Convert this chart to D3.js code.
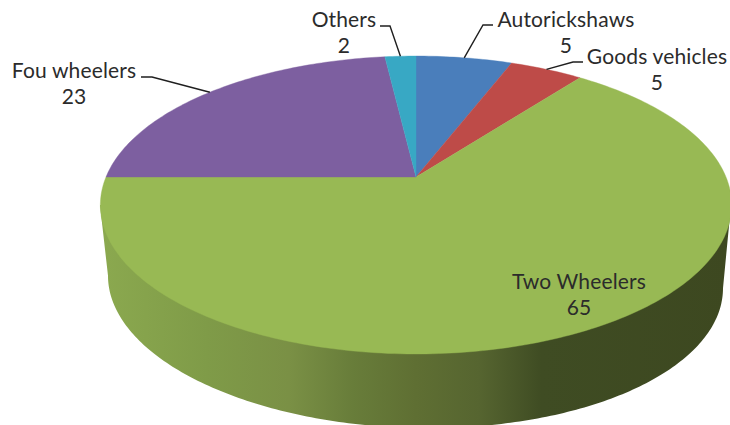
<!DOCTYPE html>
<html>
<head>
<meta charset="utf-8">
<script src="https://d3js.org/d3.v7.min.js"></script>
<style>
  html, body { margin: 0; padding: 0; background: #fff; }
  svg { display: block; }
  text { font-family: Lato, "Open Sans", sans-serif; font-size: 21px; letter-spacing: 0.15px; fill: #2b2b2b; }
</style>
</head>
<body>
<div id="chart"></div>
<script>
const CATEGORIES = ["Autorickshaws", "Goods vehicles", "Two Wheelers", "Fou wheelers", "Others"];
const SLICE_SHARES = [5.9, 4.5, 64.6, 23.1, 1.9];
const LABEL_VALUES = [5, 5, 65, 23, 2];
const COLORS = ["#4a7ebb", "#be4b48", "#98b954", "#7d5fa0", "#38a8c4"];

const FRAME_WIDTH = 730;
const FRAME_HEIGHT = 425;

// perspective of the pie top: pie centre sits above the middle of the ellipse
const CENTER = {x: 416, y: 177};
const TILT = -0.188;
const RADIUS_X = 310;
const RADIUS_Y = 143.7;

// bottom rim of the wall
const RIM = {x: 415.5, y: 282, rx: 307.5, ry: 146, shear: 0.02};

const svg = d3.select("#chart").append("svg")
    .attr("width", FRAME_WIDTH)
    .attr("height", FRAME_HEIGHT);

// map an angle (0 = 12 o'clock, clockwise) to the tilted disc
function project(angle, r = 1) {
    const u = r * Math.sin(angle);
    const v = -r * Math.cos(angle);
    const w = 1 + TILT * v;
    return [CENTER.x + RADIUS_X * u / w, CENTER.y + RADIUS_Y * v / w];
}

function rimPoint(t) {
    const x = RIM.x + RIM.rx * Math.cos(t);
    const y = RIM.y + RIM.ry * Math.sin(t) + RIM.shear * (x - RIM.x);
    return [x, y];
}

const line = d3.line();
const pie = d3.pie().sort(null).value(d => d.share);
const slices = pie(CATEGORIES.map((name, i) => ({
    name: name, share: SLICE_SHARES[i], label: LABEL_VALUES[i], color: COLORS[i]
})));

// wall gradient, runs left to right along the front
const grad = svg.append("defs").append("linearGradient")
    .attr("id", "wall")
    .attr("gradientUnits", "userSpaceOnUse")
    .attr("x1", 100).attr("x2", 731).attr("y1", 0).attr("y2", 0);
[[0, "#8ba94f"], [0.17, "#7f9b48"], [0.3, "#7a9045"], [0.4, "#687d3a"],
 [0.5, "#5f6f33"], [0.6, "#566530"], [0.7, "#3f4c23"], [1, "#3d4820"]].forEach(s => {
    grad.append("stop").attr("offset", s[0]).attr("stop-color", s[1]);
});

// the wall: outer silhouette from the left tangent, round the rim, to the right tangent
const rimPts = d3.range(0, 1.0001, 0.005).map(f => rimPoint(Math.PI * (1 - f)));
const wallPts = [[100, 205]].concat(rimPts, [[731, 205]]);
svg.append("path")
    .attr("d", line(wallPts) + "Z")
    .attr("fill", "url(#wall)");

// top of the pie
svg.append("g").selectAll("path")
    .data(slices)
    .enter()
    .append("path")
    .attr("d", d => {
        const n = Math.max(4, Math.ceil((d.endAngle - d.startAngle) * 60));
        const arc = d3.range(n + 1).map(i => project(d.startAngle + (d.endAngle - d.startAngle) * i / n));
        return line([[CENTER.x, CENTER.y]].concat(arc)) + "Z";
    })
    .attr("fill", d => d.data.color)
    .attr("stroke", d => d.data.color)
    .attr("stroke-width", 0.4);

// label layout: anchor of the text block and elbow of its leader line
const labelLayout = {
    "Autorickshaws": {x: 566, y: 27, elbow: [[493, 25], [483, 25]]},
    "Goods vehicles": {x: 657, y: 64, elbow: [[583, 62], [573, 62]]},
    "Two Wheelers": {x: 579, y: 289, elbow: null},
    "Fou wheelers": {x: 74, y: 78, elbow: [[141, 77], [152, 77]]},
    "Others": {x: 344, y: 27, elbow: [[380, 26], [390, 26]]}
};

const labels = svg.append("g");
slices.forEach(d => {
    const pos = labelLayout[d.data.name];
    if (pos.elbow) {
        const mid = project((d.startAngle + d.endAngle) / 2);
        labels.append("path")
            .attr("d", line(pos.elbow.concat([mid])))
            .attr("fill", "none")
            .attr("stroke", "#1f1f1f")
            .attr("stroke-width", 1.4);
    }
    labels.append("text")
        .attr("x", pos.x).attr("y", pos.y)
        .attr("text-anchor", "middle")
        .text(d.data.name);
    labels.append("text")
        .attr("x", pos.x).attr("y", pos.y + 26)
        .attr("text-anchor", "middle")
        .text(d.data.label);
});
</script>
</body>
</html>
